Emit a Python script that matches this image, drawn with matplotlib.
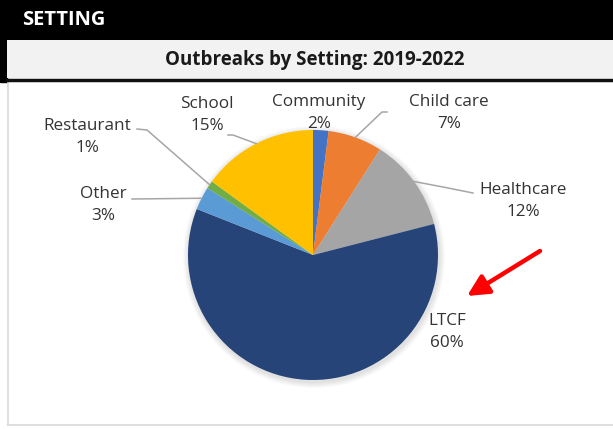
import numpy as np
import matplotlib.pyplot as plt
from matplotlib.patches import Rectangle, FancyArrowPatch

plt.rcParams['font.family'] = ['Open Sans', 'DejaVu Sans']

settings = ['Community', 'Child care', 'Healthcare', 'LTCF', 'Other', 'Restaurant', 'School']
shares = [2, 7, 12, 60, 3, 1, 15]
colors = ['#4472C4', '#ED7D31', '#A5A5A5', '#264478', '#5B9BD5', '#70AD47', '#FFC000']

W, H = 613, 429

def py(y):
    # picture rows run downwards, axes y runs upwards
    return H - y

# label text centres and leader line elbows, in picture pixels
label_pos = {
    'Community': (319, 113),
    'Child care': (449, 113),
    'Healthcare': (523, 201),
    'LTCF': (447, 332),
    'Other': (103, 205),
    'Restaurant': (87, 137),
    'School': (207, 115),
}
leaders = {
    'Child care': [(382, 112), (387, 112)],
    'Healthcare': [(443, 187), (473, 193)],
    'School': [(233, 135), (228, 135)],
    'Restaurant': [(147, 130), (137, 129)],
    'Other': [(132, 199)],
}

fig = plt.figure(figsize=(W / 100, H / 100), dpi=100)
ax = fig.add_axes([0, 0, 1, 1])

# frames
ax.add_patch(Rectangle((0, py(40)), W, 40, color='black', zorder=1))
ax.add_patch(Rectangle((0, py(82)), 7, 42, color='black', zorder=1))
ax.add_patch(Rectangle((7, py(78)), W - 7, 38, facecolor='#F2F2F2', edgecolor='none', zorder=2))
ax.plot([7, W], [py(80), py(80)], color='#111111', lw=2.5, zorder=3)
ax.plot([8, 8], [py(82), py(425)], color='#D9D9D9', lw=1.2, zorder=1)
ax.plot([8, W], [py(425), py(425)], color='#D9D9D9', lw=1.2, zorder=1)

ax.text(22, py(20), 'SETTING', color='white', fontsize=14.5, fontweight='bold',
        ha='left', va='center', zorder=4)
ax.text(315, py(60), 'Outbreaks by Setting: 2019-2022', color='#1a1a1a', fontsize=13.5,
        fontweight='bold', ha='center', va='center', zorder=4)

# pie
cx, cy, r = 313, py(255), 125
for k in range(6):
    ax.add_patch(plt.Circle((cx + 1, cy - 2), r + 1 + k, color='#000000',
                            alpha=0.018, lw=0, zorder=4))
wedges, _ = ax.pie(shares, colors=colors, startangle=90, counterclock=False,
                   center=(cx, cy), radius=r, frame=True,
                   wedgeprops=dict(linewidth=0, zorder=5))
ax.set_xlim(0, W)
ax.set_ylim(0, H)
ax.axis('off')

for name, val, w in zip(settings, shares, wedges):
    lx, ly = label_pos[name]
    ax.text(lx, py(ly), f'{name}\n{val}%', fontsize=12.3, color='#333333',
            ha='center', va='center', linespacing=1.45, zorder=6)
    if name in leaders:
        ang = np.deg2rad((w.theta1 + w.theta2) / 2)
        pts = [(cx + r * np.cos(ang), cy + r * np.sin(ang))]
        pts += [(x, py(y)) for x, y in leaders[name]]
        xs, ys = zip(*pts)
        ax.plot(xs, ys, color='#A6A6A6', lw=1.1, zorder=6)

# red arrow
ax.add_patch(FancyArrowPatch((540, py(251)), (467, py(296)), arrowstyle='-|>',
                             mutation_scale=32, color='#FF0000', lw=3.2,
                             shrinkA=0, shrinkB=0, zorder=7))

fig.savefig('out.png', dpi=100)
